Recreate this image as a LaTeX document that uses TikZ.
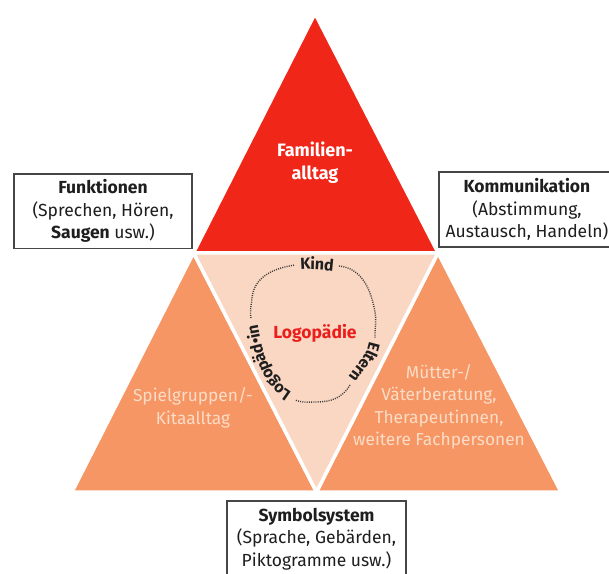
\documentclass[tikz,border=0pt]{standalone}
\usepackage{fontspec}
\setmainfont{Fira Sans}
\usetikzlibrary{decorations.text}
\definecolor{tred}{RGB}{240,38,24}
\definecolor{torange}{RGB}{246,150,100}
\definecolor{tpeach}{RGB}{250,215,194}
\definecolor{tpale}{RGB}{251,220,198}
\definecolor{tlogo}{RGB}{236,30,28}
\definecolor{boxline}{RGB}{70,70,70}
\definecolor{txt}{RGB}{30,30,30}
\definecolor{dotc}{RGB}{60,60,60}
\newcommand{\looplabelfont}{\bfseries\fontsize{16}{17}\selectfont\color{txt}}
\begin{document}
\begin{tikzpicture}[x=1pt,y=-1pt,
  tri/.style={line width=3.5pt, draw=white, line join=miter},
  infobox/.style={draw=boxline, line width=1.7pt, fill=white, inner sep=0pt,
    align=center, text=txt, font=\fontsize{17.5}{22.5}\selectfont},
  pale/.style={align=center, text=tpale, font=\fontsize{17.3}{22.5}\selectfont},
  loopdots/.style={draw=dotc, line width=1.4pt, dash pattern=on 1pt off 1.2pt},
  looptext/.style={decorate, decoration={text along path, text align=center,
    raise=-5.5pt, text format delimiters={|}{|}}}
]
\useasboundingbox (0,0) rectangle (609,573);
\clip (0,0) rectangle (609,573);

% corner points of the big triangle and side midpoints
\coordinate (T) at (315,13.5);
\coordinate (L) at (72,492);
\coordinate (R) at (561,492);
\coordinate (ML) at (193.5,252.75);
\coordinate (MR) at (438,252.75);
\coordinate (MB) at (316.5,492);

\filldraw[tri, fill=tred] (T) -- (MR) -- (ML) -- cycle;
\filldraw[tri, fill=torange] (ML) -- (MB) -- (L) -- cycle;
\filldraw[tri, fill=torange] (MR) -- (R) -- (MB) -- cycle;
\filldraw[tri, fill=tpeach] (ML) -- (MR) -- (MB) -- cycle;

% texts inside the triangles
\node[align=center, text=white, font=\bfseries\fontsize{18}{23}\selectfont] (fam) at (315,163) {Familien-\\alltag};
\node[pale] (spiel) at (193,408) {Spielgruppen/-\\Kitaalltag};
\node[pale] (mutter) at (439,407) {Mütter-/\\Väterberatung,\\Therapeutinnen,\\weitere Fachpersonen};
\node[text=tlogo, font=\bfseries\fontsize{17.5}{20}\selectfont] (logo) at (315,333) {Logopädie};

% dotted loop with its labels
\coordinate (k1) at (295,265);
\coordinate (k2) at (339,266);
\coordinate (e1) at (375,338);
\coordinate (e2) at (350,385);
\coordinate (l1) at (295,400);
\coordinate (l2) at (251,318);
\path[looptext, decoration={text={|\looplabelfont|Kind}}] (k1) to[out=8,in=175] (k2);
\draw[loopdots] (k2) to[out=-5,in=100] (375,312) to[out=-80,in=92] (e1);
\path[looptext, decoration={text={|\looplabelfont|Eltern}}] (e1) to[out=-92,in=60] (e2);
\draw[loopdots] (e2) to[out=-120,in=0] (316,402) to[out=180,in=-20] (l1);
\path[looptext, decoration={text={|\looplabelfont|Logopäd•in}}] (l1) to[out=155,in=-80] (l2);
\draw[loopdots] (l2) to[out=100,in=-95] (252,298) to[out=85,in=188] (k1);

% info boxes
\node[infobox, minimum width=178pt, minimum height=74.5pt] (funk) at (103,211.25)
  {\textbf{Funktionen}\\(Sprechen, Hören,\\\textbf{Saugen} usw.)};
\node[infobox, minimum width=176pt, minimum height=75pt] (komm) at (527,209.5)
  {\textbf{Kommunikation}\\(Abstimmung,\\Austausch, Handeln)};
\node[infobox, minimum width=179pt, minimum height=76pt] (symb) at (316.5,539)
  {\textbf{Symbolsystem}\\(Sprache, Gebärden,\\Piktogramme usw.)};
\end{tikzpicture}
\end{document}
